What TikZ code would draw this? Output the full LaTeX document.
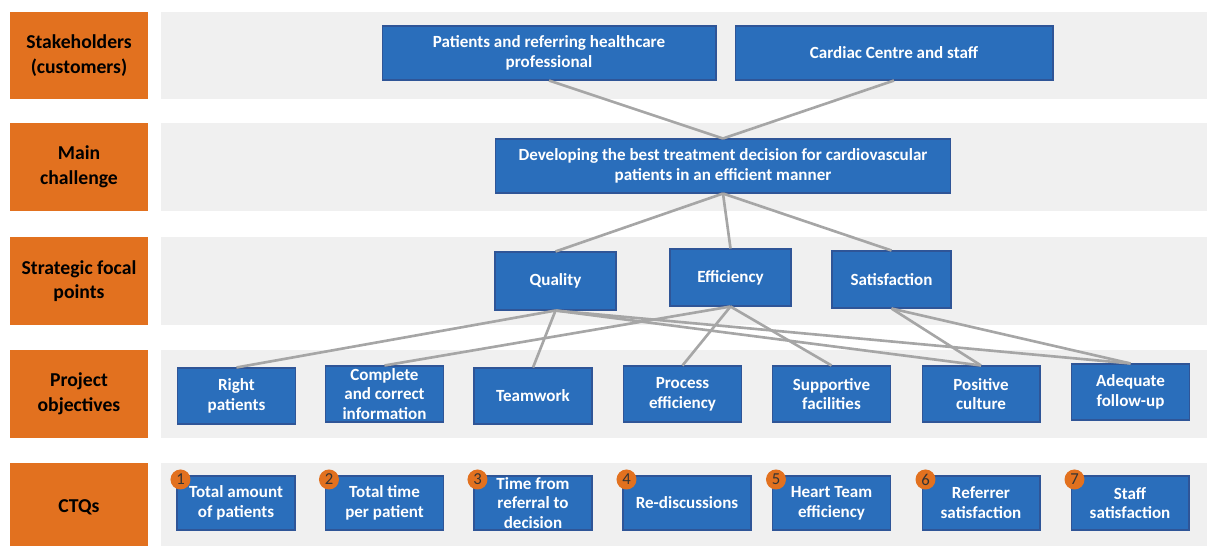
\documentclass[tikz,border=0pt]{standalone}
\usepackage{fontspec}
\setmainfont{Carlito}
\usepackage{tikz}
\definecolor{headOrange}{RGB}{226,113,31}
\definecolor{boxBlue}{RGB}{42,110,187}
\definecolor{boxEdge}{RGB}{47,85,151}
\definecolor{bandGray}{RGB}{240,240,240}
\definecolor{tieGray}{RGB}{166,166,166}
\tikzset{
	x=0.02cm, y=-0.02cm, % one unit is one pixel of the sketch, y runs down
	rowhead/.style={rectangle, fill=headOrange, inner sep=0pt, minimum width=2.76cm, minimum height=1.76cm, align=center, font=\fontsize{11.2}{14}\selectfont\bfseries}, % orange row titles
	rowband/.style={rectangle, fill=bandGray, inner sep=0pt, minimum width=20.92cm, minimum height=1.76cm}, % light band behind each row
	item/.style={rectangle, fill=boxBlue, draw=boxEdge, line width=0.6pt, text=white, inner sep=0pt, minimum width=2.36cm, minimum height=1.12cm, align=center, font=\fontsize{9.7}{11.3}\selectfont\bfseries}, % blue boxes
	num/.style={circle, fill=headOrange, text=black!80, inner sep=0pt, minimum size=0.4cm, font=\fontsize{9.5}{9.5}\selectfont}, % CTQ numbers
	tie/.style={draw=tieGray, line width=1.5pt}, % grey links
}

\begin{document}
\begin{tikzpicture}
	\useasboundingbox (0,0) rectangle (1209,545);

	% rows
	\node[rowband] (b1) at (684,55.5) {};
	\node[rowband] (b2) at (684,167) {};
	\node[rowband] (b3) at (684,281) {};
	\node[rowband] (b4) at (684,394) {};
	\node[rowband] (b5) at (684,507) {};
	\node[rowhead] (h1) at (79,55.5) {Stakeholders\\(customers)};
	\node[rowhead] (h2) at (79,167) {Main\\challenge};
	\node[rowhead] (h3) at (79,281) {Strategic focal\\points};
	\node[rowhead] (h4) at (79,394) {Project\\objectives};
	\node[rowhead] (h5) at (79,507) {CTQs};

	% stakeholders and challenge
	\node[item, minimum width=6.68cm, minimum height=1.08cm] (pat) at (549,53) {Patients and referring healthcare\\professional};
	\node[item, minimum width=6.36cm, minimum height=1.08cm] (cardiac) at (894,53) {Cardiac Centre and staff};
	\node[item, minimum width=9.12cm, minimum height=1.08cm] (main) at (723,166) {Developing the best treatment decision for cardiovascular\\patients in an efficient manner};

	% focal points
	\node[item, minimum width=2.42cm, minimum height=1.16cm] (quality) at (555.5,281) {Quality};
	\node[item, minimum width=2.42cm, minimum height=1.14cm] (efficiency) at (730.5,277.5) {Efficiency};
	\node[item, minimum width=2.38cm, minimum height=1.14cm] (satisfaction) at (891.5,279.5) {Satisfaction};

	% objectives
	\node[item] (right) at (236.5,396) {Right\\patients};
	\node[item] (complete) at (384.5,394) {Complete\\and correct\\information};
	\node[item] (teamwork) at (533,396) {Teamwork};
	\node[item] (process) at (682.5,394) {Process\\efficiency};
	\node[item] (supportive) at (831.5,394) {Supportive\\facilities};
	\node[item] (positive) at (981,394) {Positive\\culture};
	\node[item] (adequate) at (1130.5,392) {Adequate\\follow-up};

	% CTQs
	\node[item, minimum height=1.08cm] (c1) at (236,503) {Total amount\\of patients};
	\node[item, minimum height=1.08cm] (c2) at (384.5,503) {Total time\\per patient};
	\node[item, minimum height=1.08cm] (c3) at (533,503) {Time from\\referral to\\decision};
	\node[item, minimum width=2.56cm, minimum height=1.08cm] (c4) at (687,503) {Re-discussions};
	\node[item, minimum height=1.08cm] (c5) at (831.5,503) {Heart Team\\efficiency};
	\node[item, minimum height=1.08cm] (c6) at (981,503) {Referrer\\satisfaction};
	\node[item, minimum height=1.08cm] (c7) at (1130,503) {Staff\\satisfaction};
	\foreach \i in {1,...,7}
		\node[num] (n\i) at ([shift={(0.08cm,-0.08cm)}]c\i.north west) {\i};

	% links
	\draw[tie] (pat.south) -- (main.north);
	\draw[tie] (cardiac.south) -- (main.north);
	\draw[tie] (main.south) -- (quality.north);
	\draw[tie] (main.south) -- (efficiency.north);
	\draw[tie] (main.south) -- (satisfaction.north);
	\draw[tie] (quality.south) -- (right.north);
	\draw[tie] (quality.south) -- (teamwork.north);
	\draw[tie] (quality.south) -- (positive.north);
	\draw[tie] (quality.south) -- (adequate.north);
	\draw[tie] (efficiency.south) -- (complete.north);
	\draw[tie] (efficiency.south) -- (process.north);
	\draw[tie] (efficiency.south) -- (supportive.north);
	\draw[tie] (satisfaction.south) -- (positive.north);
	\draw[tie] (satisfaction.south) -- (adequate.north);
\end{tikzpicture}
\end{document}
